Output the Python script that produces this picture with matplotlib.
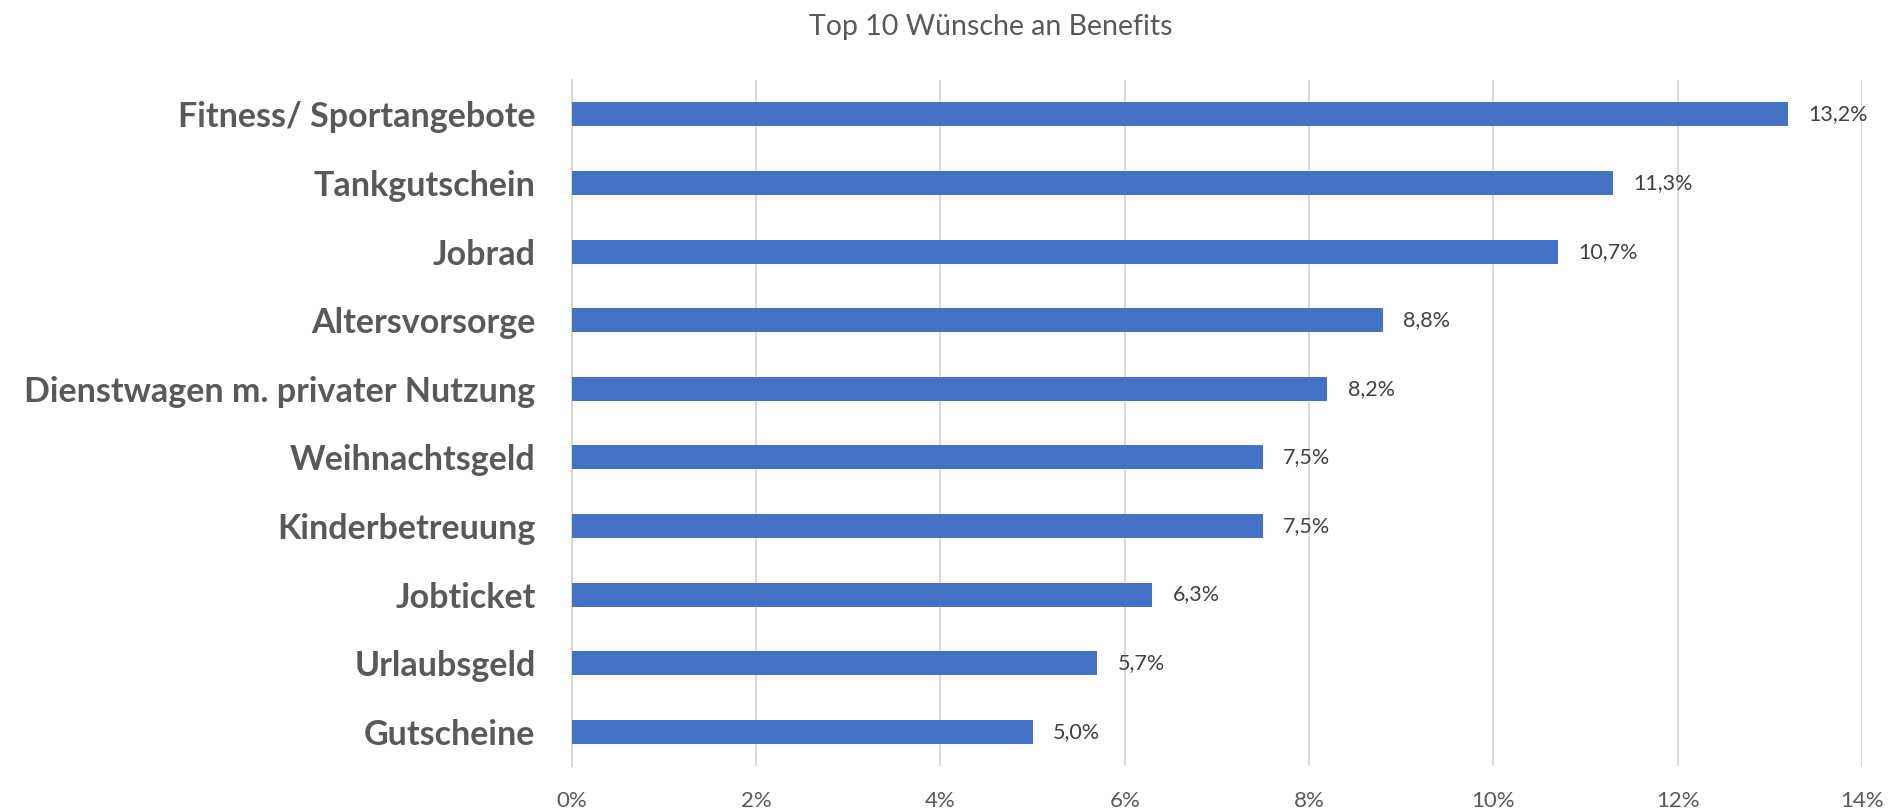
import matplotlib.pyplot as plt

# Top 10 Wünsche an Benefits (Anteil in %)
CATEGORIES = [
    "Fitness/ Sportangebote",
    "Tankgutschein",
    "Jobrad",
    "Altersvorsorge",
    "Dienstwagen m. privater Nutzung",
    "Weihnachtsgeld",
    "Kinderbetreuung",
    "Jobticket",
    "Urlaubsgeld",
    "Gutscheine",
]
VALUES = [13.2, 11.3, 10.7, 8.8, 8.2, 7.5, 7.5, 6.3, 5.7, 5.0]
X_TICKS = [0, 2, 4, 6, 8, 10, 12, 14]
TITLE = "Top 10 Wünsche an Benefits"

BAR_COLOR = "#4472C4"
GRID_COLOR = "#D9D9D9"
TEXT_GREY = "#595959"
FONT = ["Lato", "DejaVu Sans"]


def main() -> None:
    plt.rcParams["font.family"] = FONT

    fig = plt.figure(figsize=(18.95, 8.10), dpi=100)
    ax = fig.add_axes([0.3017, 0.0543, 0.6809, 0.8467])

    y = list(range(len(CATEGORIES)))
    ax.barh(y, VALUES, height=0.35, color=BAR_COLOR, zorder=3)

    for yi, v in zip(y, VALUES):
        label = f"{v:.1f}%".replace(".", ",")
        ax.text(v + 0.22, yi, label, va="center", ha="left",
                fontsize=15.5, color="#404040")

    ax.set_xlim(0, 14)
    ax.set_ylim(len(CATEGORIES) - 0.5, -0.5)
    ax.set_xticks(X_TICKS)
    ax.set_xticklabels([f"{t}%" for t in X_TICKS], fontsize=16, color=TEXT_GREY)
    ax.set_yticks(y)
    ax.set_yticklabels(CATEGORIES, fontsize=24.5, fontweight="bold", color=TEXT_GREY)

    ax.xaxis.grid(True, color=GRID_COLOR, linewidth=1.5, zorder=0)
    ax.set_axisbelow(True)
    for side in ["top", "right", "bottom"]:
        ax.spines[side].set_visible(False)
    ax.spines["left"].set_color(GRID_COLOR)
    ax.spines["left"].set_linewidth(1.5)
    ax.tick_params(axis="both", length=0)
    ax.tick_params(axis="x", pad=18)
    ax.tick_params(axis="y", pad=26)

    fig.text(991 / 1895, 1 - 27 / 810, TITLE, ha="center", va="center",
             fontsize=20.5, color=TEXT_GREY)

    fig.savefig("out.png", dpi=100)
    plt.close(fig)


if __name__ == "__main__":
    main()
